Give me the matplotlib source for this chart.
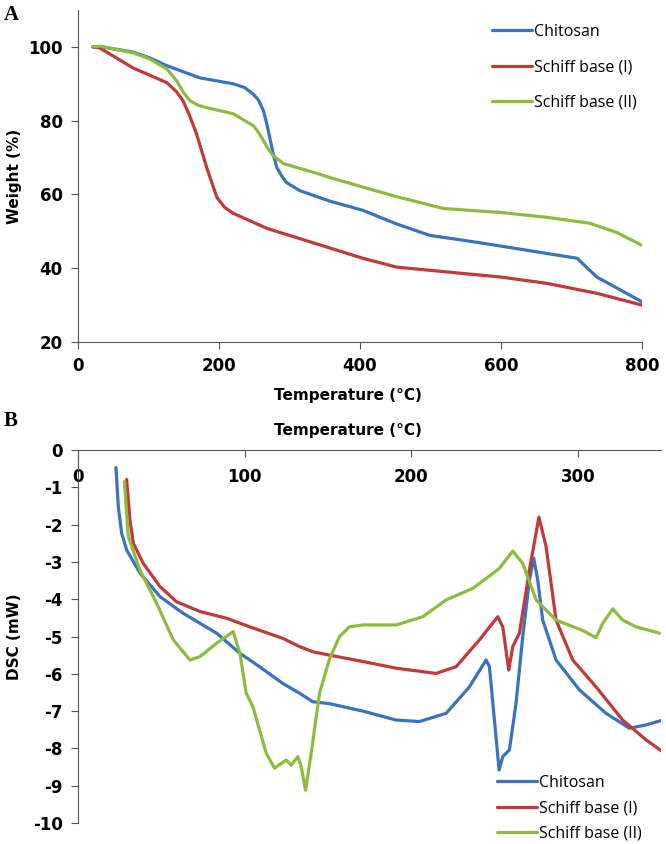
import matplotlib
matplotlib.use('Agg')
import matplotlib.pyplot as plt

plt.rcParams['axes.unicode_minus'] = False

# ---- Panel A: TGA (weight % vs temperature) ----
tga_chitosan_t = [21, 31, 78, 102, 126, 173, 220, 236, 248, 256, 263, 268, 272, 277, 282, 289, 296, 315, 357, 404, 452, 499, 546, 600, 665, 708, 736, 800]
tga_chitosan_w = [100, 100.1, 98.6, 97, 94.9, 91.6, 90, 89, 87.3, 85.6, 82.7, 79, 75.4, 71, 67.3, 65, 63.2, 61, 58.2, 55.7, 52, 48.9, 47.6, 46, 44, 42.7, 37.6, 30.9]

tga_sb1_t = [21, 31, 78, 126, 140, 149, 158, 168, 183, 197, 208, 220, 268, 315, 357, 404, 452, 523, 600, 665, 736, 800]
tga_sb1_w = [100, 99.7, 94.3, 90.3, 87.8, 85.4, 81.5, 76.5, 67, 59.2, 56.5, 54.9, 50.8, 48, 45.5, 42.7, 40.3, 39, 37.6, 35.9, 33.2, 30]

tga_sb2_t = [21, 31, 78, 102, 126, 140, 150, 159, 170, 183, 220, 249, 256, 263, 270, 277, 291, 339, 357, 404, 452, 518, 600, 665, 726, 764, 800]
tga_sb2_w = [100, 100.2, 98.4, 96.7, 94, 90.8, 87.5, 85.4, 84.2, 83.5, 81.9, 78.6, 76.8, 74.6, 72.3, 70.5, 68.4, 65.7, 64.6, 62, 59.4, 56.2, 55.1, 53.8, 52.2, 49.7, 46.2]

# ---- Panel B: DSC (mW vs temperature) ----
dsc_chitosan_t = [22.8, 24.2, 26.2, 29.2, 37.2, 49.2, 63.2, 83.2, 97.2, 109, 123, 133, 141, 151, 171, 191, 205, 221, 235,
                  245, 247, 250, 252.8, 255, 259, 263, 267, 271, 273.6, 276, 279, 287, 301, 317, 331, 341, 351]
dsc_chitosan_v = [-0.47, -1.52, -2.23, -2.68, -3.3, -3.93, -4.38, -4.91, -5.45, -5.81, -6.26, -6.52, -6.75, -6.8, -7.0, -7.24, -7.28, -7.06, -6.35,
                  -5.63, -5.81, -7.24, -8.58, -8.22, -8.04, -6.78, -5.0, -3.49, -2.9, -3.49, -4.56, -5.63, -6.43, -7.06, -7.46, -7.37, -7.24]

dsc_sb1_t = [29.2, 31.2, 33.2, 39.2, 49.2, 59.2, 73.2, 89.2, 103, 123, 133, 141, 151, 171, 191, 215, 227, 241, 252,
             255, 258.6, 261, 265, 271, 276.7, 281, 287, 297, 311, 327, 341, 351]
dsc_sb1_v = [-0.79, -1.88, -2.5, -3.04, -3.66, -4.07, -4.33, -4.51, -4.74, -5.05, -5.27, -5.41, -5.5, -5.67, -5.85, -5.99, -5.81, -5.09, -4.47,
             -4.74, -5.9, -5.27, -4.91, -3.22, -1.8, -2.59, -4.56, -5.63, -6.35, -7.24, -7.77, -8.09]

dsc_sb2_t = [27.8, 30.2, 37.2, 47.2, 57.2, 67.2, 73.2, 83.2, 93.2, 97.2, 101, 105, 113, 118, 125, 128, 132, 134, 136.6, 140,
             145, 151, 157, 163, 171, 191, 207, 221, 237, 249, 253, 261, 267, 275, 287, 303, 311, 315, 321, 327, 335, 349]
dsc_sb2_v = [-0.85, -2.32, -3.22, -4.11, -5.09, -5.63, -5.54, -5.18, -4.87, -5.45, -6.52, -6.88, -8.13, -8.53, -8.31, -8.45, -8.22, -8.49, -9.12, -8.13,
             -6.52, -5.6, -5.0, -4.74, -4.69, -4.69, -4.47, -4.02, -3.71, -3.31, -3.17, -2.71, -3.04, -4.02, -4.56, -4.84, -5.03, -4.65, -4.26, -4.56, -4.74, -4.91]

labels = ['Chitosan', 'Schiff base (I)', 'Schiff base (II)']
colors = ['#3A72C0', '#C0393B', '#8DBB3F']

W, H = 666, 844
fig = plt.figure(figsize=(W / 100, H / 100), dpi=100)

tick_font = dict(family='DejaVu Sans', weight='bold', size=12)
label_font = dict(family='DejaVu Sans', weight='bold', size=11)
leg_font = {'family': 'Open Sans', 'size': 11.5}


def px_rect(x0, y0, x1, y1):
    return [x0 / W, 1 - y1 / H, (x1 - x0) / W, (y1 - y0) / H]


# Panel A
axA = fig.add_axes(px_rect(78, 10, 642, 342))
for t, v, c, lab in zip([tga_chitosan_t, tga_sb1_t, tga_sb2_t],
                        [tga_chitosan_w, tga_sb1_w, tga_sb2_w], colors, labels):
    axA.plot(t, v, color=c, lw=2.3, label=lab, solid_capstyle='round', solid_joinstyle='round')
axA.set_xlim(0, 800)
axA.set_ylim(20, 110)
axA.set_xticks([0, 200, 400, 600, 800])
axA.set_yticks([20, 40, 60, 80, 100])
axA.spines['top'].set_visible(False)
axA.spines['right'].set_visible(False)
for s in ['left', 'bottom']:
    axA.spines[s].set_color('#555555')
axA.tick_params(axis='both', length=5, color='#555555', pad=6)
for lbl in axA.get_xticklabels() + axA.get_yticklabels():
    lbl.set(**tick_font)
axA.set_xlabel('Temperature (°C)', **label_font)
axA.set_ylabel('Weight (%)', **label_font)
axA.xaxis.set_label_coords(270 / 564, -0.14)
axA.yaxis.set_label_coords(-56 / 564, 0.5)
axA.legend(loc='upper left', bbox_to_anchor=(492 / W, 1 - 24 / H), bbox_transform=fig.transFigure,
           frameon=False, prop=leg_font, handlelength=2.5, handletextpad=0.15,
           labelspacing=1.22, borderpad=0, borderaxespad=0)

# Panel B
axB = fig.add_axes(px_rect(78, 450, 661, 823))
for t, v, c, lab in zip([dsc_chitosan_t, dsc_sb1_t, dsc_sb2_t],
                        [dsc_chitosan_v, dsc_sb1_v, dsc_sb2_v], colors, labels):
    axB.plot(t, v, color=c, lw=2.3, label=lab, solid_capstyle='round', solid_joinstyle='round')
axB.set_xlim(0, 350)
axB.set_ylim(-10, 0)
axB.set_xticks([0, 100, 200, 300])
axB.set_yticks(range(-10, 1))
axB.spines['bottom'].set_visible(False)
axB.spines['right'].set_visible(False)
for s in ['left', 'top']:
    axB.spines[s].set_color('#555555')
axB.xaxis.set_ticks_position('top')
axB.tick_params(axis='x', direction='in', length=5, color='#555555', pad=-26)
axB.tick_params(axis='y', length=5, color='#555555', pad=6)
for lbl in axB.get_xticklabels() + axB.get_yticklabels():
    lbl.set(**tick_font)
axB.xaxis.set_label_position('top')
axB.set_xlabel('Temperature (°C)', **label_font)
axB.set_ylabel('DSC (mW)', **label_font)
axB.xaxis.set_label_coords(270 / 583, 1 + 15 / 373)
axB.yaxis.set_label_coords(-56 / 583, 0.5)
axB.legend(loc='upper left', bbox_to_anchor=(497 / W, 1 - 775 / H), bbox_transform=fig.transFigure,
           frameon=False, prop=leg_font, handlelength=2.5, handletextpad=0.15,
           labelspacing=0.58, borderpad=0, borderaxespad=0)

fig.text(4 / W, 1 - 15 / H, 'A', family='Liberation Serif', weight='bold', size=15, va='center', ha='left')
fig.text(4 / W, 1 - 421 / H, 'B', family='Liberation Serif', weight='bold', size=15, va='center', ha='left')

fig.savefig('out.png', dpi=100)
